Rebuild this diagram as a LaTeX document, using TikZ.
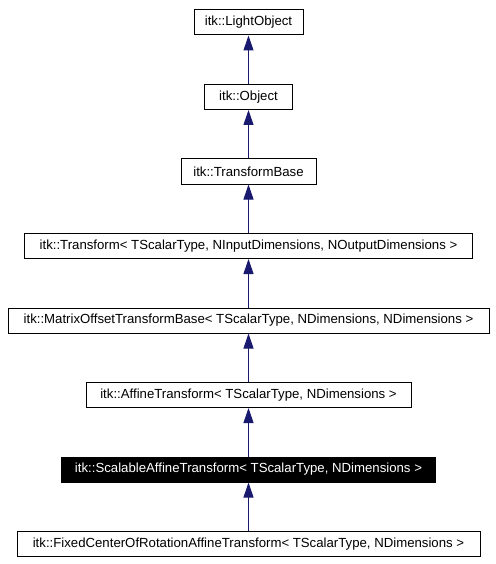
\documentclass[tikz,border=0pt]{standalone}
\usepackage{fontspec}
\setmainfont{Liberation Sans}
\usetikzlibrary{arrows.meta}
\definecolor{edgeblue}{HTML}{191970}
\tikzset{
  cls/.style={draw=black, line width=1pt, minimum height=25pt, inner sep=0pt,
    font=\fontsize{13.2}{15}\selectfont, anchor=center},
  cur/.style={cls, fill=black, text=white},
  inherit/.style={draw=edgeblue, line width=1pt,
    -{Triangle[width=10pt, length=15pt, fill=edgeblue]}}
}
\begin{document}
\begin{tikzpicture}[x=1pt, y=1pt]
\useasboundingbox (0,0) rectangle (495,-564);
\node[cls, minimum width=109pt] (lo) at (248.5,-22.5) {itk::LightObject};
\node[cls, minimum width=88pt] (ob) at (248.5,-97) {itk::Object};
\node[cls, minimum width=135pt] (tb) at (248.5,-171.5) {itk::TransformBase};
\node[cls, minimum width=448pt] (tr) at (248.5,-246) {itk::Transform< TScalarType, NInputDimensions, NOutputDimensions >};
\node[cls, minimum width=481pt] (mo) at (248.5,-320.5) {itk::MatrixOffsetTransformBase< TScalarType, NDimensions, NDimensions >};
\node[cls, minimum width=325pt] (af) at (248.5,-395) {itk::AffineTransform< TScalarType, NDimensions >};
\node[cur, minimum width=374pt] (sc) at (248.5,-469.5) {itk::ScalableAffineTransform< TScalarType, NDimensions >};
\node[cls, minimum width=463pt] (fc) at (248.5,-544) {itk::FixedCenterOfRotationAffineTransform< TScalarType, NDimensions >};
\draw[inherit] (ob.north) -- (lo.south);
\draw[inherit] (tb.north) -- (ob.south);
\draw[inherit] (tr.north) -- (tb.south);
\draw[inherit] (mo.north) -- (tr.south);
\draw[inherit] (af.north) -- (mo.south);
\draw[inherit] (sc.north) -- (af.south);
\draw[inherit] (fc.north) -- (sc.south);
\end{tikzpicture}
\end{document}
